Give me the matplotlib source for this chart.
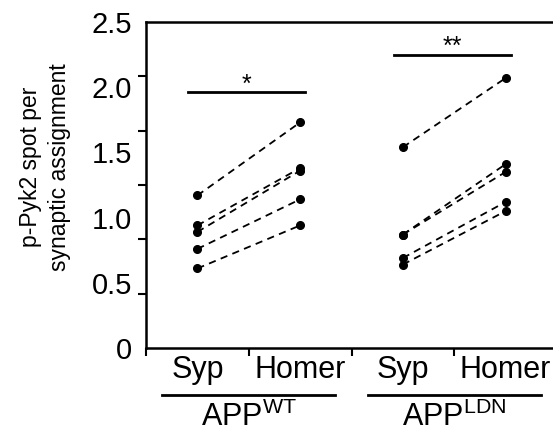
import numpy as np
import matplotlib.pyplot as plt

plt.rcParams['font.family'] = ['Liberation Sans', 'DejaVu Sans']

# paired values, Syp -> Homer, one pair per culture
wt_syp = [1.17, 0.94, 0.89, 0.76, 0.61]
wt_homer = [1.73, 1.38, 1.36, 1.14, 0.94]
ldn_syp = [1.54, 0.87, 0.87, 0.69, 0.64]
ldn_homer = [2.07, 1.41, 1.35, 1.12, 1.05]

tick_labels = ['Syp', 'Homer', 'Syp', 'Homer']
groups = ['WT', 'LDN']
stars = ['*', '**']
y_labels = ['0', '0.5', '1.0', '1.5', '2.0', '2.5']

fig = plt.figure(figsize=(5.53, 4.32), dpi=100)
ax = fig.add_axes([146 / 553, 1 - 348 / 432, 411 / 553, 326 / 432])

# draw the paired lines
for x0, pairs in [(0, zip(wt_syp, wt_homer)), (2, zip(ldn_syp, ldn_homer))]:
    for a, b in pairs:
        ax.plot([x0, x0 + 1], [a, b], '--', color='black', lw=1.3, dashes=(4, 3),
                marker='o', ms=5.5, mfc='black', mec='black', clip_on=False)

ax.set_xlim(-0.5, 3.5)
ax.set_ylim(0, 2.5)

# y axis: labels every 0.5, tick marks split in six
ax.set_yticks(np.arange(0, 2.51, 0.5))
ax.set_yticklabels(y_labels, fontsize=21)
ax.set_yticks(np.linspace(0, 2.5, 7), minor=True)
ax.tick_params(axis='y', which='major', length=0, pad=10)
ax.tick_params(axis='y', which='minor', length=6, width=1.5, direction='out')

# x axis: labels under points, tick marks between
ax.set_xticks(range(4))
ax.set_xticklabels(tick_labels, fontsize=22)
ax.set_xticks([-0.5, 0.5, 1.5, 2.5], minor=True)
ax.tick_params(axis='x', which='major', length=0, pad=5)
ax.tick_params(axis='x', which='minor', length=6, width=1.5, direction='out')

for s in ['left', 'bottom', 'top']:
    ax.spines[s].set_linewidth(1.8)
ax.spines['right'].set_visible(False)

# group lines and labels below the axis
trans = ax.get_xaxis_transform()
for i, g in enumerate(groups):
    c = 0.5 + 2 * i
    ax.plot([c - 0.84, c + 0.84], [-0.145, -0.145], color='black', lw=2,
            transform=trans, clip_on=False)
    ax.text(c, -0.165, 'APP$^{\\mathregular{' + g + '}}$', transform=trans,
            ha='center', va='top', fontsize=22)

# significance bars
sig_y = [1.96, 2.25]
for i, s in enumerate(stars):
    c = 0.48 + 2 * i
    ax.plot([c - 0.57, c + 0.57], [sig_y[i], sig_y[i]], color='black', lw=2)
    ax.text(c, sig_y[i] + 0.005, s, ha='center', va='baseline', fontsize=18)

fig.text(45 / 553, 1 - 167 / 432, 'p-Pyk2 spot per\nsynaptic assignment',
         rotation=90, ha='center', va='center', fontsize=16.5, linespacing=1.3)

fig.savefig('out.png', dpi=100)
